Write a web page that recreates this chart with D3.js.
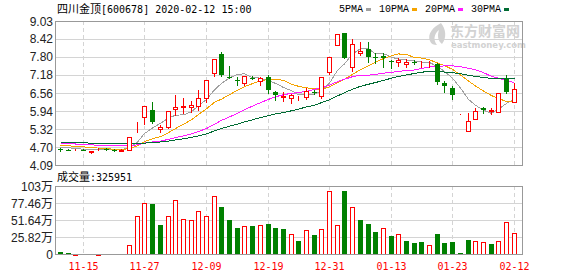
<!DOCTYPE html>
<html lang="zh-CN">
<head>
<meta charset="utf-8">
<title>四川金顶[600678]</title>
<script src="https://d3js.org/d3.v7.min.js"></script>
<style>
    body { margin: 0; background: #fff; }
    svg { display: block; }
    text { font-family: "Liberation Sans", Arial, "Noto Sans CJK SC", sans-serif; }
</style>
</head>
<body>
<div id="chart"></div>
<script>
    // 交易日
    var dates = ["11-12","11-13","11-14","11-15","11-18","11-19","11-20","11-21","11-22","11-25",
                 "11-26","11-27","11-28","11-29","12-02","12-03","12-04","12-05","12-06","12-09",
                 "12-10","12-11","12-12","12-13","12-16","12-17","12-18","12-19","12-20","12-23",
                 "12-24","12-25","12-26","12-27","12-30","12-31","01-02","01-03","01-06","01-07",
                 "01-08","01-09","01-10","01-13","01-14","01-15","01-16","01-17","01-20","01-21",
                 "01-22","01-23","02-03","02-04","02-05","02-06","02-07","02-10","02-11","02-12"];

    var open  = [4.63,4.62,4.61,4.62,4.52,4.63,4.64,4.62,4.58,4.62, 5.55,5.73,5.98,5.31,5.41,6.00,6.07,6.07,6.11,6.38,
                 7.24,7.90,7.12,6.99,6.91,7.09,6.98,7.10,6.60,6.43, 6.40,6.38,6.41,6.59,6.47,7.29,8.21,8.61,7.45,7.93,
                 8.06,7.78,7.83,7.65,7.63,7.57,7.63,7.55,7.55,7.54, 6.91,6.72,5.84,5.26,5.66,6.04,5.93,5.92,7.05,6.26];
    var high  = [4.68,4.63,4.64,4.63,4.58,4.68,4.66,4.63,4.63,5.05, 5.55,6.10,6.26,5.45,5.93,6.49,6.40,6.30,6.66,7.02,
                 7.72,7.95,7.48,7.12,7.15,7.13,7.12,7.17,6.64,6.60, 6.52,6.46,6.72,6.67,7.10,7.81,8.59,8.62,8.40,8.31,
                 8.31,7.92,7.94,7.68,7.75,7.72,7.69,7.67,7.66,7.60, 6.98,6.81,5.84,5.86,6.03,6.09,6.03,6.56,7.18,6.89];
    var low   = [4.57,4.60,4.59,4.59,4.51,4.60,4.61,4.58,4.56,4.62, 5.23,5.49,5.54,5.23,5.35,5.81,5.87,5.92,5.98,6.26,
                 7.14,7.15,7.06,6.85,6.85,7.03,6.85,6.55,6.33,6.27, 6.21,6.33,6.37,6.52,6.40,7.20,8.21,7.75,7.33,7.85,
                 7.63,7.60,7.45,7.41,7.49,7.45,7.55,7.46,7.46,6.87, 6.61,6.36,5.84,5.26,5.66,5.86,5.84,5.92,6.55,6.26];
    var close = [4.62,4.61,4.62,4.61,4.58,4.65,4.62,4.60,4.59,5.05, 5.55,6.10,5.55,5.38,5.93,6.07,6.10,6.14,6.38,7.02,
                 7.72,7.18,7.10,6.97,7.14,7.06,7.08,6.67,6.50,6.45, 6.49,6.40,6.63,6.56,7.10,7.81,8.59,7.75,8.23,8.00,
                 7.78,7.76,7.77,7.63,7.68,7.62,7.61,7.56,7.57,6.95, 6.80,6.49,5.84,5.61,5.94,5.97,5.96,6.56,6.58,6.69];

    // 成交量（万）
    var volume = [3.0,0.9,0.6,0.7,0.6,0.6,0.7,0.6,0.7,13, 57.5,77,76,44.5,57.5,82,53,52,65,57.5,
                  88,71.5,52,40,42.5,43,44.5,46,40,38.5, 31,20.5,36.5,29,38,95,44,95.5,71,52,
                  46,34,39.5,28,30.5,20.5,16,17.5,14,31, 16,17.5,1,22,20.5,17.5,14.5,19,48.5,32.5951];

    // 均线
    var ma5  = [4.70,4.68,4.66,4.63,4.61,4.61,4.62,4.61,4.61,4.70, 4.88,5.17,5.36,5.52,5.70,5.80,5.81,5.92,6.12,6.34,
                6.67,6.89,7.08,7.20,7.22,7.09,7.07,6.98,6.89,6.75, 6.64,6.50,6.49,6.51,6.64,6.90,7.34,7.56,7.90,8.08,
                8.07,7.90,7.91,7.79,7.72,7.69,7.66,7.62,7.61,7.46, 7.30,7.07,6.73,6.34,6.14,5.97,5.86,6.01,6.20,6.35];
    var ma10 = [4.76,4.75,4.73,4.71,4.69,4.67,4.65,4.63,4.62,4.65, 4.75,4.89,4.99,5.06,5.20,5.34,5.49,5.64,5.82,6.02,
                6.24,6.35,6.50,6.66,6.78,6.88,6.98,7.03,7.04,6.99, 6.86,6.79,6.74,6.70,6.69,6.77,6.92,7.03,7.20,7.36,
                7.49,7.62,7.74,7.84,7.90,7.88,7.78,7.76,7.70,7.59, 7.50,7.37,7.18,6.97,6.80,6.63,6.47,6.37,6.27,6.24];
    var ma20 = [4.82,4.82,4.81,4.79,4.78,4.77,4.76,4.75,4.75,4.75, 4.78,4.84,4.88,4.91,4.97,5.03,5.09,5.16,5.24,5.34,
                5.49,5.62,5.74,5.86,5.99,6.11,6.23,6.34,6.43,6.50, 6.55,6.57,6.62,6.68,6.74,6.83,6.95,7.03,7.12,7.17,
                7.17,7.20,7.24,7.27,7.30,7.33,7.35,7.40,7.45,7.47, 7.49,7.49,7.46,7.41,7.35,7.26,7.13,7.07,6.98,6.92];
    var ma30 = [4.87,4.87,4.86,4.85,4.84,4.83,4.82,4.82,4.82,4.82, 4.82,4.84,4.86,4.88,4.91,4.95,4.99,5.04,5.09,5.16,
                5.26,5.34,5.42,5.49,5.57,5.64,5.72,5.78,5.84,5.89, 5.95,6.01,6.08,6.14,6.23,6.33,6.46,6.57,6.69,6.79,
                6.86,6.92,6.99,7.07,7.13,7.18,7.23,7.27,7.31,7.31, 7.28,7.26,7.22,7.17,7.13,7.09,7.06,7.05,7.06,7.06];

    var priceTicks = ["9.03","8.42","7.80","7.18","6.56","5.94","5.32","4.70","4.09"];
    var volTicks = [103.28, 77.46, 51.64, 25.82, 0];
    var volTickLabels = ["103万","77.46万","51.64万","25.82万","0"];
    var dateTicks = ["11-15","11-27","12-09","12-19","12-31","01-13","01-23","02-12"];
    var maNames = ["5PMA","10PMA","20PMA","30PMA"];

    var upColor = "#ff0000", downColor = "#008000";
    var maColors = ["#a0a0a0", "#f5a300", "#ff1aff", "#006b33"];
    var gridColor = "#d4d4d4", frameColor = "#999";
    var mono = "'DejaVu Sans Mono', monospace";
    var cjk = "'Noto Sans CJK SC', sans-serif";

    var plotL = 55, plotR = 522,
        priceT = 21, priceB = 165,
        volT = 186, volB = 254;

    var svg = d3.select("#chart").append("svg")
        .attr("width", 578)
        .attr("height", 276);

    var x = d3.scaleBand().domain(dates).range([56, 517.5]);
    function cx(d) { return Math.round(x(d) + x.bandwidth() / 2); }

    var y = d3.scaleLinear().domain([4.09, 9.03]).range([priceB, priceT]);
    var yv = d3.scaleLinear().domain([0, 103.28]).range([volB, volT]);

    var rows = dates.map(function(d, i) {
        return { date: d, o: open[i], h: high[i], l: low[i], c: close[i], v: volume[i],
                 volUp: i === 0 ? close[i] >= open[i] : close[i] >= close[i - 1] };
    });

    // 水平网格线
    svg.append("g").selectAll("line").data(priceTicks).join("line")
        .attr("x1", plotL).attr("x2", plotR)
        .attr("y1", function(d) { return Math.round(y(+d)) + 0.5; })
        .attr("y2", function(d) { return Math.round(y(+d)) + 0.5; })
        .attr("stroke", gridColor);

    svg.append("g").selectAll("line").data(volTicks).join("line")
        .attr("x1", plotL).attr("x2", plotR)
        .attr("y1", function(d) { return Math.round(yv(d)) + 0.5; })
        .attr("y2", function(d) { return Math.round(yv(d)) + 0.5; })
        .attr("stroke", gridColor);

    // 垂直虚线
    [[priceT, priceB], [volT, volB]].forEach(function(r) {
        svg.append("g").selectAll("line").data(dateTicks).join("line")
            .attr("x1", function(d) { return cx(d) + 0.5; })
            .attr("x2", function(d) { return cx(d) + 0.5; })
            .attr("y1", r[0]).attr("y2", r[1])
            .attr("stroke", gridColor)
            .attr("stroke-dasharray", "4,3");
    });

    // 水印
    var wm = svg.append("g").attr("fill", "#d2d2d2");
    wm.append("path")
        .attr("d", "M441,23 C433,27 427,34 430,41 C431,44 434,45 437,45 C433,40 434,34 439,30 C437,36 438,41 442,44 C447,38 446,29 441,23 Z");
    wm.append("text").attr("x", 450).attr("y", 36)
        .style("font-family", cjk).style("font-size", "14px").style("font-weight", "bold")
        .text("东方财富网");
    wm.append("text").attr("x", 451).attr("y", 47.5)
        .style("font-family", "'DejaVu Sans', sans-serif").style("font-size", "8.5px").style("font-weight", "bold")
        .text("eastmoney.com");

    // 均线
    var maSeries = [ma5, ma10, ma20, ma30];
    maSeries.forEach(function(s, k) {
        var line = d3.line()
            .x(function(d, i) { return cx(dates[i]) + 0.5; })
            .y(function(d) { return y(d); });
        svg.append("path")
            .datum(s)
            .attr("d", line)
            .attr("fill", "none")
            .attr("stroke", maColors[k])
            .attr("stroke-width", 1)
            .attr("shape-rendering", "crispEdges");
    });

    // K线
    var candle = svg.append("g").attr("shape-rendering", "crispEdges")
        .selectAll("g").data(rows).join("g");

    candle.append("line")
        .attr("x1", function(d) { return cx(d.date) + 0.5; })
        .attr("x2", function(d) { return cx(d.date) + 0.5; })
        .attr("y1", function(d) { return Math.round(y(d.h)); })
        .attr("y2", function(d) { return Math.round(y(d.l)) + 1; })
        .attr("stroke", function(d) { return d.c >= d.o ? upColor : downColor; });

    candle.append("rect")
        .attr("x", function(d) { return d.c >= d.o ? cx(d.date) - 1.5 : cx(d.date) - 2; })
        .attr("y", function(d) {
            var t = Math.round(y(Math.max(d.o, d.c)));
            return d.c >= d.o ? t + 0.5 : t;
        })
        .attr("width", function(d) { return d.c >= d.o ? 4 : 5; })
        .attr("height", function(d) {
            var h = Math.round(y(Math.min(d.o, d.c))) - Math.round(y(Math.max(d.o, d.c)));
            return d.c >= d.o ? Math.max(0, h) : Math.max(1, h);
        })
        .attr("fill", function(d) { return d.c >= d.o ? "#fff" : downColor; })
        .attr("stroke", function(d) { return d.c >= d.o ? upColor : "none"; });

    // 成交量
    svg.append("g").attr("shape-rendering", "crispEdges")
        .selectAll("rect").data(rows).join("rect")
        .attr("x", function(d) { return d.volUp ? cx(d.date) - 1.5 : cx(d.date) - 2; })
        .attr("y", function(d) { return d.volUp ? Math.round(yv(d.v)) + 0.5 : Math.round(yv(d.v)); })
        .attr("width", function(d) { return d.volUp ? 4 : 5; })
        .attr("height", function(d) { return Math.max(1, volB - Math.round(yv(d.v)) - (d.volUp ? 0.5 : 0)); })
        .attr("fill", function(d) { return d.volUp ? "#fff" : downColor; })
        .attr("stroke", function(d) { return d.volUp ? upColor : "none"; });

    // 边框
    svg.append("rect").attr("x", plotL + 0.5).attr("y", priceT + 0.5)
        .attr("width", plotR - plotL).attr("height", priceB - priceT)
        .attr("fill", "none").attr("stroke", frameColor);
    svg.append("rect").attr("x", plotL + 0.5).attr("y", volT + 0.5)
        .attr("width", plotR - plotL).attr("height", volB - volT)
        .attr("fill", "none").attr("stroke", frameColor);

    // 价格刻度
    svg.append("g").selectAll("text").data(priceTicks).join("text")
        .attr("x", 53)
        .attr("y", function(d) { return y(+d) + 4.5; })
        .attr("text-anchor", "end")
        .style("font-size", "12px")
        .attr("fill", "#222")
        .text(function(d) { return d; });

    // 成交量刻度
    svg.append("g").selectAll("text").data(volTicks).join("text")
        .attr("x", 53)
        .attr("y", function(d) { return yv(d) + 4.5; })
        .attr("text-anchor", "end")
        .style("font-size", "12px")
        .attr("fill", "#222")
        .text(function(d, i) { return volTickLabels[i]; });

    // 日期
    svg.append("g").selectAll("text").data(dateTicks).join("text")
        .attr("x", function(d) { return cx(d) + 0.5; })
        .attr("y", 270)
        .attr("text-anchor", "middle")
        .style("font-family", mono)
        .style("font-size", "10px")
        .attr("fill", upColor)
        .text(function(d) { return d; });

    // 标题
    var title = svg.append("text").attr("x", 57).attr("y", 13).attr("fill", "#000");
    title.append("tspan").style("font-family", cjk).style("font-size", "11px").text("四川金顶");
    title.append("tspan").style("font-family", mono).style("font-size", "10px").text("[600678] 2020-02-12 15:00");

    var vt = svg.append("text").attr("x", 57).attr("y", 181).attr("fill", "#000");
    vt.append("tspan").style("font-family", cjk).style("font-size", "11px").text("成交量");
    vt.append("tspan").style("font-family", mono).style("font-size", "10px")
        .text(":" + Math.round(volume[volume.length - 1] * 10000));

    // 图例
    var lx = 339;
    maNames.forEach(function(name, k) {
        var t = svg.append("text").attr("x", lx).attr("y", 12)
            .style("font-family", "'Liberation Mono', monospace")
            .style("font-size", "10px")
            .attr("fill", "#000")
            .text(name);
        var w = t.node().getComputedTextLength();
        svg.append("rect").attr("x", Math.round(lx + w + 3)).attr("y", 8)
            .attr("width", 5).attr("height", 3)
            .attr("fill", maColors[k]);
        lx = Math.round(lx + w + 3) + 5 + 8;
    });
</script>
</body>
</html>
